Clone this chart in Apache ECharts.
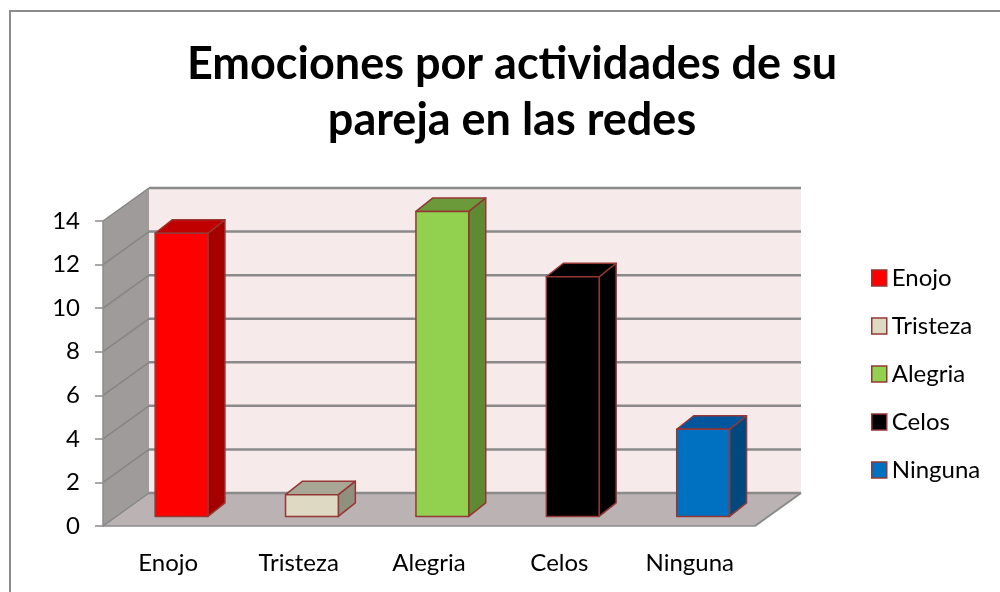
<!DOCTYPE html>
<html>
<head>
<meta charset="utf-8">
<script src="https://cdn.jsdelivr.net/npm/echarts@6/dist/echarts.min.js"></script>
<style>
  html, body { margin: 0; padding: 0; background: #fff; }
  #chart { width: 1000px; height: 592px; }
</style>
</head>
<body>
<div id="chart"></div>
<script>
// datos
const categorias = ['Enojo', 'Tristeza', 'Alegria', 'Celos', 'Ninguna'];
const valores = [13, 1, 14, 11, 4];
const marcasY = [0, 2, 4, 6, 8, 10, 12, 14];

// colores por cara (frente, tapa, costado)
const coloresFrente = ['#ff0000', '#ddd9c3', '#92d050', '#000000', '#0070c0'];
const coloresTapa = ['#c00000', '#a8a694', '#6a9a3a', '#000000', '#00559c'];
const coloresCostado = ['#a40000', '#918f7e', '#5e8a33', '#000000', '#00497f'];
const borde = '#953735';

// profundidad del "3D" en pixeles
const DX = 46, DY = -33;
const FRENTE_BARRA = 0.29;
const BX = 17, BY = -13.5;

const chart = echarts.init(document.getElementById('chart'));

function renderMarco(params, api) {
    const band = api.size([1, 0])[0];
    const x0 = api.coord([0, 0])[0] - band / 2;
    const x1 = api.coord([categorias.length - 1, 0])[0] + band / 2;
    const y0 = api.coord([0, 0])[1];
    const yTop = api.coord([0, marcasY[marcasY.length - 1]])[1];
    const children = [];
    // pared izquierda
    children.push({type: 'polygon', shape: {points: [[x0, y0], [x0, yTop], [x0 + DX, yTop + DY], [x0 + DX, y0 + DY]]},
        style: {fill: '#9f9b9a', stroke: null}});
    // pared del fondo
    children.push({type: 'polygon', shape: {points: [[x0 + DX, yTop + DY], [x1 + DX, yTop + DY], [x1 + DX, y0 + DY], [x0 + DX, y0 + DY]]},
        style: {fill: '#f6eaea', stroke: null}});
    // piso
    children.push({type: 'polygon', shape: {points: [[x0, y0], [x1, y0], [x1 + DX, y0 + DY], [x0 + DX, y0 + DY]]},
        style: {fill: '#bbb3b3', stroke: null}});
    marcasY.forEach(v => {
        const y = api.coord([0, v])[1];
        children.push({type: 'line', shape: {x1: x0, y1: y, x2: x0 + DX, y2: y + DY},
            style: {stroke: '#858585', lineWidth: 1.5}});
        children.push({type: 'line', shape: {x1: x0 + DX, y1: y + DY, x2: x1 + DX, y2: y + DY},
            style: {stroke: '#8a8a8a', lineWidth: 2.5}});
    });
    children.push({type: 'line', shape: {x1: x1, y1: y0, x2: x1 + DX, y2: y0 + DY},
        style: {stroke: '#8a8a8a', lineWidth: 2}});
    return {type: 'group', children: children};
}

function renderBarra(idx) {
    return function (params, api) {
        const i = api.value(0), v = api.value(1);
        const base = api.coord([i, 0]);
        const top = api.coord([i, v]);
        const w = api.size([1, 0])[0] * 0.405;
        const fx = base[0] + DX * FRENTE_BARRA - w / 2;
        const gx = fx + w;
        const yb = base[1] + DY * FRENTE_BARRA;
        const yt = top[1] + DY * FRENTE_BARRA;
        const st = {stroke: borde, lineWidth: 1.5, lineJoin: 'round'};
        return {type: 'group', children: [
            {type: 'polygon', shape: {points: [[gx, yt], [gx + BX, yt + BY], [gx + BX, yb + BY], [gx, yb]]},
                style: Object.assign({fill: coloresCostado[idx]}, st)},
            {type: 'polygon', shape: {points: [[fx, yt], [gx, yt], [gx + BX, yt + BY], [fx + BX, yt + BY]]},
                style: Object.assign({fill: coloresTapa[idx]}, st)},
            {type: 'rect', shape: {x: fx, y: yt, width: w, height: yb - yt},
                style: Object.assign({fill: coloresFrente[idx]}, st)}
        ]};
    };
}

const seriesBarras = categorias.map((c, i) => ({
    name: c,
    type: 'custom',
    clip: false,
    z: 3,
    itemStyle: {color: coloresFrente[i]},
    renderItem: renderBarra(i),
    encode: {x: 0, y: 1},
    data: [[i, valores[i]]]
}));

const option = {
    animation: false,
    backgroundColor: '#ffffff',
    textStyle: {fontFamily: 'Lato'},
    title: {
        text: 'Emociones por actividades de su\npareja en las redes',
        left: 507,
        textAlign: 'center',
        top: 31,
        textStyle: {fontFamily: 'Lato', fontSize: 45, fontWeight: 'bold', color: '#000', lineHeight: 56}
    },
    legend: {
        orient: 'vertical',
        left: 871,
        top: 266,
        padding: 0,
        itemWidth: 15,
        itemHeight: 16,
        itemGap: 24,
        icon: 'rect',
        itemStyle: {borderColor: borde, borderWidth: 1.5},
        textStyle: {fontFamily: 'Lato', fontSize: 24, color: '#000'},
        data: categorias
    },
    graphic: [{
        type: 'rect', shape: {x: 10, y: 11, width: 1000, height: 600},
        style: {fill: null, stroke: '#8c8c8c', lineWidth: 2}, silent: true
    }],
    grid: {left: 103, right: 245, top: 221, bottom: 66},
    xAxis: {
        type: 'category',
        data: categorias,
        z: 5,
        axisLine: {lineStyle: {color: '#8c8c8c', width: 1.5}},
        axisTick: {length: 9, lineStyle: {color: '#8c8c8c', width: 1.5}},
        axisLabel: {margin: 25, fontSize: 24, color: '#000', fontFamily: 'Lato'}
    },
    yAxis: {
        type: 'value',
        min: marcasY[0],
        max: marcasY[marcasY.length - 1],
        interval: 2,
        z: 5,
        splitLine: {show: false},
        axisLine: {show: true, lineStyle: {color: '#8c8c8c', width: 1.5}},
        axisTick: {show: true, length: 8, lineStyle: {color: '#8c8c8c', width: 1.5}},
        axisLabel: {margin: 23, fontSize: 24, color: '#000', fontFamily: 'Lato'}
    },
    series: [{
        type: 'custom',
        name: 'marco',
        silent: true,
        clip: false,
        z: 1,
        renderItem: renderMarco,
        encode: {x: 0, y: 1},
        data: [[0, 0]]
    }].concat(seriesBarras)
};
chart.setOption(option);
</script>
</body>
</html>
